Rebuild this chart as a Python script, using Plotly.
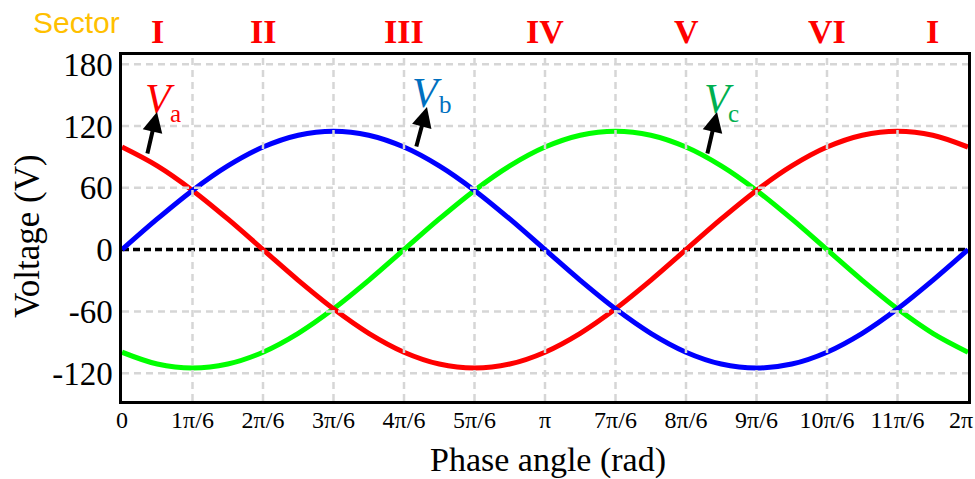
import math
import plotly.graph_objects as go

# Phase angle in degrees (sampled every 15 deg), converted to rad for plotting
angle_deg = [0, 15, 30, 45, 60, 75, 90, 105, 120, 135, 150, 165, 180,
             195, 210, 225, 240, 255, 270, 285, 300, 315, 330, 345, 360]
va = [99.6, 81.3, 57.5, 29.8, 0, -29.8, -57.5, -81.3, -99.6, -111.1, -115, -111.1, -99.6,
      -81.3, -57.5, -29.8, 0, 29.8, 57.5, 81.3, 99.6, 111.1, 115, 111.1, 99.6]
vb = [0, 29.8, 57.5, 81.3, 99.6, 111.1, 115, 111.1, 99.6, 81.3, 57.5, 29.8, 0,
      -29.8, -57.5, -81.3, -99.6, -111.1, -115, -111.1, -99.6, -81.3, -57.5, -29.8, 0]
vc = [-99.6, -111.1, -115, -111.1, -99.6, -81.3, -57.5, -29.8, 0, 29.8, 57.5, 81.3, 99.6,
      111.1, 115, 111.1, 99.6, 81.3, 57.5, 29.8, 0, -29.8, -57.5, -81.3, -99.6]

x_tick_mult = [0, 1, 2, 3, 4, 5, 6, 7, 8, 9, 10, 11, 12]  # multiples of pi/6
x_tick_labels = ["0", "1π/6", "2π/6", "3π/6", "4π/6", "5π/6", "π", "7π/6",
                 "8π/6", "9π/6", "10π/6", "11π/6", "2π"]
y_ticks = [180, 120, 60, 0, -60, -120]

sector_labels = ["I", "II", "III", "IV", "V", "VI", "I"]
sector_centers_deg = [15, 60, 120, 180, 240, 300, 345]

x = [d * math.pi / 180 for d in angle_deg]
xt = [m * math.pi / 6 for m in x_tick_mult]

fig = go.Figure()
fig.add_trace(go.Scatter(x=[0, 2 * math.pi], y=[0, 0], mode="lines",
                         line=dict(color="black", width=3.5, dash="7px,4px"), showlegend=False))
for ys, col in [(vc, "#00FF00"), (va, "#FF0000"), (vb, "#0000FF")]:
    fig.add_trace(go.Scatter(x=x, y=ys, mode="lines",
                             line=dict(color=col, width=5, shape="spline", smoothing=1.0),
                             showlegend=False))

# grid lines drawn above traces
grid = dict(color="#D6D6D6", width=2.5, dash="7px,5px")
for v in xt[1:-1]:
    fig.add_shape(type="line", x0=v, x1=v, y0=0, y1=1, xref="x", yref="paper",
                  line=grid, layer="above")
for v in y_ticks:
    if v == 0:
        continue
    fig.add_shape(type="line", x0=0, x1=1, y0=v, y1=v, xref="paper", yref="y",
                  line=grid, layer="above")

serif = "Liberation Serif, Times New Roman, serif"

# sector labels
for lab, d in zip(sector_labels, sector_centers_deg):
    fig.add_annotation(x=d * math.pi / 180, y=1.069, xref="x", yref="paper",
                       text="<b>%s</b>" % lab, showarrow=False, yanchor="middle",
                       font=dict(family=serif, size=34, color="#FF0000"))
fig.add_annotation(x=-0.054, y=1.095, xref="paper", yref="paper", text="Sector", showarrow=False,
                   xanchor="center", yanchor="middle",
                   font=dict(family="Liberation Sans, Arial, sans-serif", size=30, color="#FFC000"))

# phase labels with arrows:
# (subscript, colour, V x, V y, sub x, sub y, arrow tip x, tip y, tail x, tail y)
labels = [("a", "#FF0000", 0.282, 146, 0.401, 132, 0.260, 133.7, 0.186, 91.9),
          ("b", "#0070C0", 2.265, 152, 2.406, 141, 2.265, 138.5, 2.183, 98.7),
          ("c", "#00B050", 4.434, 146, 4.545, 132, 4.419, 133.7, 4.345, 91.9)]
for sub, col, vx, vy, sx, sy, hx, hy, tx, ty in labels:
    fig.add_annotation(x=vx, y=vy, xref="x", yref="y", showarrow=False,
                       text="<i>V</i>", font=dict(family=serif, size=42, color=col))
    fig.add_annotation(x=sx, y=sy, xref="x", yref="y", showarrow=False,
                       text=sub, font=dict(family=serif, size=25, color=col))
    fig.add_annotation(x=hx, y=hy, ax=tx, ay=ty,
                       xref="x", yref="y", axref="x", ayref="y", text="", showarrow=True,
                       arrowhead=2, arrowsize=1.0, arrowwidth=4, arrowcolor="black", standoff=0)

# last x tick label placed as annotation so it is not clipped at the edge
fig.add_annotation(x=1.0, y=0, xref="paper", yref="paper", yshift=-19, xshift=7,
                   text=x_tick_labels[-1], showarrow=False, xanchor="right", yanchor="middle",
                   font=dict(family=serif, size=24, color="black"))
shown_labels = x_tick_labels[:-1] + [""]

# axis titles
fig.add_annotation(x=0.5035, y=-0.171, xref="paper", yref="paper", text="Phase angle (rad)",
                   showarrow=False, xanchor="center", yanchor="middle",
                   font=dict(family=serif, size=34, color="black"))
fig.add_annotation(x=-0.111, y=0.477, xref="paper", yref="paper", text="Voltage (V)",
                   showarrow=False, xanchor="center", yanchor="middle", textangle=-90,
                   font=dict(family=serif, size=35, color="black"))

fig.update_xaxes(range=[0, 2 * math.pi], tickvals=xt, ticktext=shown_labels,
                 showgrid=False, zeroline=False, showline=True, linecolor="black",
                 linewidth=2.5, mirror=True, ticks="", ticklabelstandoff=-5,
                 tickfont=dict(family=serif, size=24, color="black"))
fig.update_yaxes(range=[-147, 189], tickvals=y_ticks, ticktext=[str(v) for v in y_ticks],
                 showgrid=False, zeroline=False, showline=True, linecolor="black",
                 linewidth=2.5, mirror=True, ticks="",
                 tickfont=dict(family=serif, size=33, color="black"))
fig.update_layout(width=975, height=479, margin=dict(l=122, r=7, t=55, b=78, autoexpand=False),
                  plot_bgcolor="white", paper_bgcolor="white")
fig.write_html("out.html", config={"displayModeBar": False},
               post_script="document.body.style.margin='0px';")
